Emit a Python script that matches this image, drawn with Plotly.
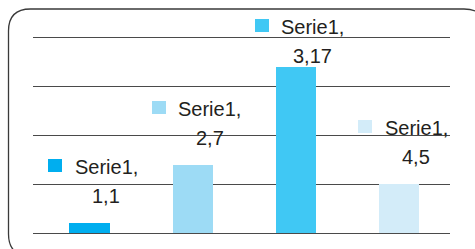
import plotly.graph_objects as go

# ---- data ----
series_name = "Serie1"
categories = ["1", "2", "3", "4"]
values = [1, 7, 17, 5]

# ---- style ----
bar_colors = ["#00AEEF", "#9DDBF5", "#40C8F4", "#D3ECF9"]
label_lift = [0, 0, -16, 0]  # extra vertical pixel offset per label
W, H = 475, 249
ML, MR, MT, MB = 33, 25, 33, 16
FONT = "Liberation Sans, Arial, sans-serif"
TXT = "#231F20"

xs = list(range(len(categories)))

fig = go.Figure()
fig.add_trace(go.Bar(
    x=xs, y=values, width=0.39,
    marker=dict(color=bar_colors, line=dict(width=0)),
    hoverinfo="skip", showlegend=False,
))

pw, ph = W - ML - MR, H - MT - MB
def px2paper(px, py):
    return (px - ML) / pw, (H - MB - py) / ph

# rounded frame
L, T, R, B, rad = 8.5, 9, 486, 256, 22
def P(x, y):
    a, b = px2paper(x, y)
    return f"{a:.5f},{b:.5f}"
path = (f"M {P(L, T + rad)} Q {P(L, T)} {P(L + rad, T)} L {P(R - rad, T)} "
        f"Q {P(R, T)} {P(R, T + rad)} L {P(R, B - rad)} Q {P(R, B)} {P(R - rad, B)} "
        f"L {P(L + rad, B)} Q {P(L, B)} {P(L, B - rad)} Z")
shapes = [dict(type="path", xref="paper", yref="paper", path=path,
               line=dict(color="#3a3a3a", width=1.3), fillcolor="rgba(0,0,0,0)", layer="below")]

annotations = []
for i, (cat, v) in enumerate(zip(categories, values)):
    lift = label_lift[i]
    # legend key square
    annotations.append(dict(x=i, y=v, xref="x", yref="y", text=" ",
                            showarrow=False, xanchor="center", yanchor="bottom",
                            width=14, height=13, borderpad=0, borderwidth=0,
                            bgcolor=bar_colors[i], xshift=-34, yshift=51 + lift,
                            font=dict(family=FONT, size=8, color=bar_colors[i])))
    annotations.append(dict(x=i, y=v, xref="x", yref="y", text=f"{series_name},",
                            showarrow=False, xanchor="center", yanchor="bottom",
                            xshift=17, yshift=43 + lift,
                            font=dict(family=FONT, size=20, color=TXT)))
    annotations.append(dict(x=i, y=v, xref="x", yref="y", text=f"{cat},{v}",
                            showarrow=False, xanchor="center", yanchor="bottom",
                            xshift=17, yshift=14 + lift,
                            font=dict(family=FONT, size=20, color=TXT)))

fig.update_layout(
    width=W, height=H,
    margin=dict(l=ML, r=MR, t=MT, b=MB, pad=0),
    paper_bgcolor="white", plot_bgcolor="white",
    xaxis=dict(range=[-0.547, 3.494], showgrid=False, zeroline=False,
               showticklabels=False, ticks="", showline=False, fixedrange=True),
    yaxis=dict(range=[0, 20.5], dtick=5, tick0=0, showgrid=True, gridcolor="#4a4a4a",
               gridwidth=1, zeroline=True, zerolinecolor="#4a4a4a", zerolinewidth=1,
               showticklabels=False, ticks="", showline=False, fixedrange=True),
    shapes=shapes, annotations=annotations,
    bargap=0,
)

fig.write_html("out.html", config={"displayModeBar": False},
               post_script="document.body.style.margin='0';document.body.style.overflow='hidden';")
